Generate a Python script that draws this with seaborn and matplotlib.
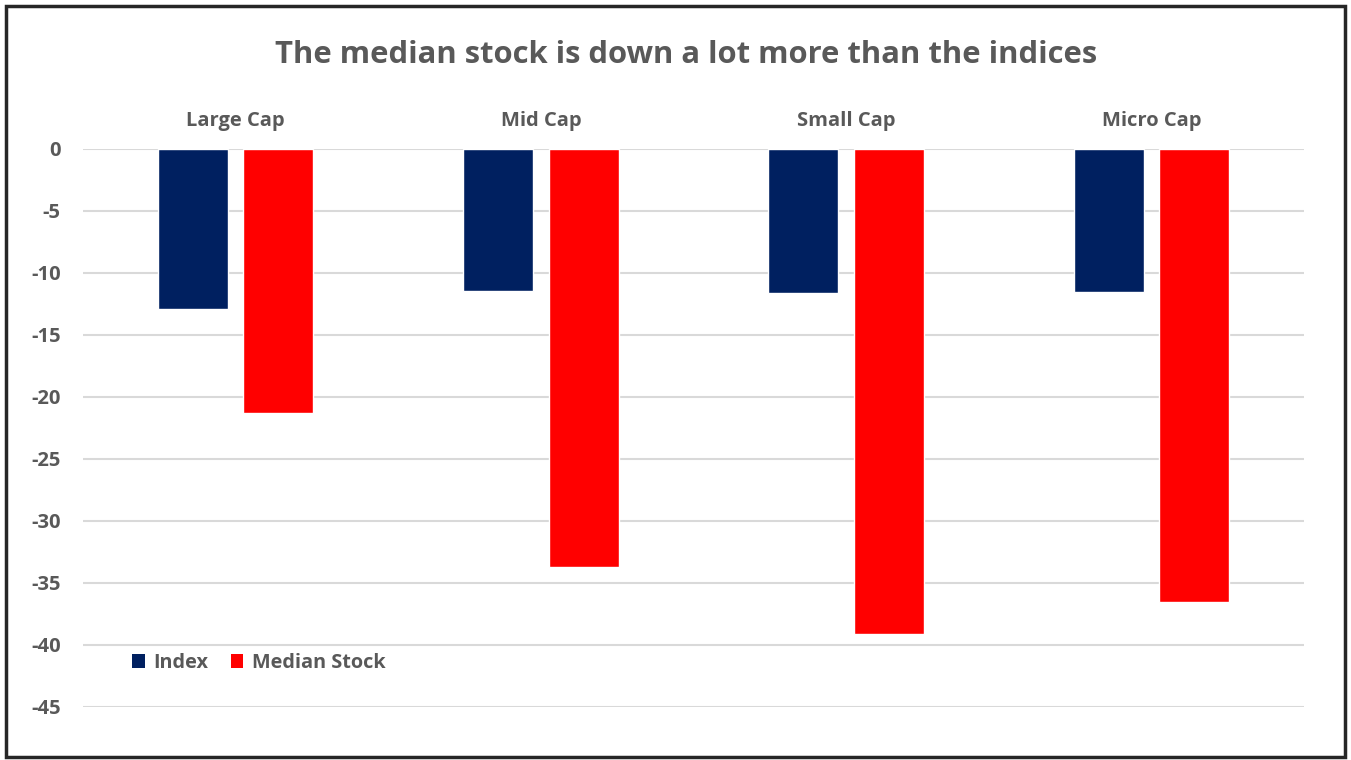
import matplotlib
matplotlib.use("Agg")
import matplotlib.pyplot as plt
import seaborn as sns
import pandas as pd
from matplotlib.patches import Rectangle, Patch

categories = ["Large Cap", "Mid Cap", "Small Cap", "Micro Cap"]
index_vals = [-12.9, -11.45, -11.65, -11.55]
median_vals = [-21.3, -33.7, -39.1, -36.5]
series = ["Index", "Median Stock"]
colors = ["#002060", "#FF0000"]
yticks = [0, -5, -10, -15, -20, -25, -30, -35, -40, -45]

df = pd.DataFrame({
    "cat": categories * 2,
    "series": [series[0]] * 4 + [series[1]] * 4,
    "value": index_vals + median_vals,
})

sns.set_theme(style="white")
plt.rcParams["font.family"] = ["Open Sans", "DejaVu Sans"]
gray = "#595959"

fig = plt.figure(figsize=(13.51, 7.6), dpi=100)
ax = fig.add_axes([83/1351, 1-707/760, (1304-83)/1351, (707-149)/760])

sns.barplot(data=df, x="cat", y="value", hue="series", palette=colors,
            order=categories, hue_order=series, width=0.56, gap=0.18,
            ax=ax, legend=False, saturation=1)

ax.set_ylim(-45, 0)
ax.set_xlim(-0.5, 3.5)
ax.set_yticks(yticks)
ax.set_yticklabels([str(t) for t in yticks], fontsize=14.5, fontweight="bold", color=gray)
ax.yaxis.grid(True, color="#D9D9D9", linewidth=1.5)
ax.set_axisbelow(True)
ax.xaxis.tick_top()
ax.tick_params(axis="x", length=0, pad=13, labelsize=14.5, labelcolor=gray)
for lab in ax.get_xticklabels():
    lab.set_fontweight("bold")
ax.tick_params(axis="y", length=0, pad=16)
for lab in ax.get_yticklabels():
    lab.set_horizontalalignment("right")
ax.set_xlabel("")
ax.set_ylabel("")
for s in ax.spines.values():
    s.set_visible(False)

fig.text(0.508, 1-55/760, "The median stock is down a lot more than the indices",
         ha="center", va="center", fontsize=22.3, fontweight="bold", color=gray)

handles = [Patch(facecolor=c, edgecolor="none") for c in colors]
leg = fig.legend(handles, series, loc="center left", bbox_to_anchor=(114/1351, 1-663/760),
                 frameon=False, ncol=2, fontsize=14.3, handlelength=0.65, handleheight=0.65,
                 handletextpad=0.45, columnspacing=1.1)
for t in leg.get_texts():
    t.set_color(gray)
    t.set_fontweight("bold")

fig.patches.append(Rectangle((6/1351, 3/760), 1339/1351, 751/760, transform=fig.transFigure,
                             fill=False, edgecolor="#262626", linewidth=2.5))

fig.savefig("out.png", dpi=100)
